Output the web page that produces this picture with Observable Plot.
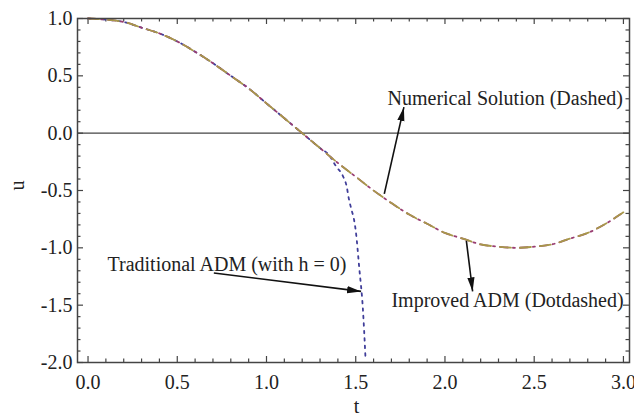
<!DOCTYPE html>
<html>
<head>
<meta charset="utf-8">
<script src="https://cdn.jsdelivr.net/npm/d3@7"></script>
<script src="https://cdn.jsdelivr.net/npm/@observablehq/plot@0.6"></script>
<style>
  html, body { margin: 0; padding: 0; background: #fff; }
  #chart svg { display: block; }
  #chart svg, #chart svg text, #chart svg g { font-family: "Liberation Serif", "Times New Roman", serif !important; }
</style>
</head>
<body>
<div id="chart"></div>
<script>
// ---- data ----
const tValues = [0.0,0.1,0.2,0.3,0.4,0.5,0.6,0.7,0.8,0.9,1.0,1.1,1.2,1.3,1.4,1.5,1.6,1.7,1.8,1.9,2.0,2.1,2.2,2.3,2.4,2.5,2.6,2.7,2.8,2.9,3.0];
const numericalU = [1.0,0.99,0.97,0.92,0.87,0.80,0.71,0.61,0.50,0.39,0.26,0.13,0.0,-0.13,-0.26,-0.38,-0.50,-0.61,-0.71,-0.79,-0.87,-0.92,-0.97,-0.99,-1.0,-0.99,-0.97,-0.92,-0.87,-0.79,-0.69];
const improvedU = [1.0,0.99,0.97,0.92,0.87,0.80,0.71,0.61,0.50,0.39,0.26,0.13,0.0,-0.13,-0.26,-0.38,-0.50,-0.61,-0.71,-0.79,-0.87,-0.92,-0.97,-0.99,-1.0,-0.99,-0.97,-0.92,-0.87,-0.79,-0.69];
const tradT = [0.0,0.1,0.2,0.3,0.4,0.5,0.6,0.7,0.8,0.9,1.0,1.1,1.2,1.3,1.35,1.39,1.43,1.45,1.46,1.475,1.49,1.50,1.52,1.54,1.555];
const tradU = [1.0,0.99,0.97,0.92,0.87,0.80,0.71,0.61,0.50,0.39,0.26,0.13,0.0,-0.13,-0.19,-0.29,-0.38,-0.47,-0.56,-0.66,-0.75,-0.85,-1.18,-1.53,-1.97];

const xTickValues = [0.0,0.5,1.0,1.5,2.0,2.5,3.0];
const yTickValues = [-2.0,-1.5,-1.0,-0.5,0.0,0.5,1.0];
const xMinorTicks = [0.1,0.2,0.3,0.4,0.6,0.7,0.8,0.9,1.1,1.2,1.3,1.4,1.6,1.7,1.8,1.9,2.1,2.2,2.3,2.4,2.6,2.7,2.8,2.9];
const yMinorTicks = [-1.9,-1.8,-1.7,-1.6,-1.4,-1.3,-1.2,-1.1,-0.9,-0.8,-0.7,-0.6,-0.4,-0.3,-0.2,-0.1,0.1,0.2,0.3,0.4,0.6,0.7,0.8,0.9];

const labelTexts = ["Numerical Solution (Dashed)", "Improved ADM (Dotdashed)", "Traditional ADM (with h = 0)"];
const labelT = [1.678, 1.70, 0.109];
const labelU = [0.305, -1.456, -1.15];
const arrowFromT = [1.66, 2.12, 0.705];
const arrowFromU = [-0.53, -0.94, -1.22];
const arrowToT = [1.77, 2.155, 1.53];
const arrowToU = [0.227, -1.38, -1.38];

// ---- tables ----
const numerical = tValues.map((t, i) => ({t, u: numericalU[i]}));
const improved = tValues.map((t, i) => ({t, u: improvedU[i]}));
const traditional = tradT.map((t, i) => ({t, u: tradU[i]}));
const labels = labelTexts.map((text, i) => ({text, t: labelT[i], u: labelU[i]}));
const arrows = arrowFromT.map((t1, i) => ({t1, u1: arrowFromU[i], t2: arrowToT[i], u2: arrowToU[i]}));

const W = 634, H = 418;
const mL = 77, mR = 5, mT = 18, mB = 56;
const innerW = W - mL - mR, innerH = H - mT - mB;
const axisColor = "#444";
const major = 6, minor = 3.5;
const fmt = d => d.toFixed(1);
const serif = "'Liberation Serif', 'Times New Roman', serif";

function filledArrow(color) {
  const m = d3.create("svg:marker")
    .attr("viewBox", "-14 -4 15 8")
    .attr("refX", 0).attr("refY", 0)
    .attr("markerWidth", 15).attr("markerHeight", 8)
    .attr("markerUnits", "userSpaceOnUse")
    .attr("orient", "auto")
    .attr("fill", "#111").attr("stroke", "none");
  m.append("path").attr("d", "M-14,-3.6L0,0L-14,3.6Z");
  return m.node();
}

function build(useMarker) {
  const arrowMarks = useMarker
    ? [Plot.link(arrows, {x1: "t1", y1: "u1", x2: "t2", y2: "u2", stroke: "#111", strokeWidth: 1.6, markerEnd: filledArrow})]
    : [Plot.arrow(arrows, {x1: "t1", y1: "u1", x2: "t2", y2: "u2", stroke: "#111", strokeWidth: 1.6, headLength: 14, headAngle: 30})];
  return Plot.plot({
    width: W, height: H,
    marginLeft: mL, marginRight: mR, marginTop: mT, marginBottom: mB,
    style: {fontFamily: serif, fontSize: "20px", color: "#222", background: "#fff"},
    x: {domain: [-0.059, 3.034]},
    y: {domain: [-2, 1]},
    marks: [
      Plot.ruleY([0], {stroke: axisColor, strokeWidth: 1.3}),
      // minor & major ticks on all four sides, pointing inward
      Plot.tickX(xMinorTicks, {x: d => d, stroke: axisColor, strokeWidth: 1.2, insetTop: innerH - minor}),
      Plot.tickX(xTickValues, {x: d => d, stroke: axisColor, strokeWidth: 1.2, insetTop: innerH - major}),
      Plot.tickX(xMinorTicks, {x: d => d, stroke: axisColor, strokeWidth: 1.2, insetBottom: innerH - minor}),
      Plot.tickX(xTickValues, {x: d => d, stroke: axisColor, strokeWidth: 1.2, insetBottom: innerH - major}),
      Plot.tickY(yMinorTicks, {y: d => d, stroke: axisColor, strokeWidth: 1.2, insetRight: innerW - minor}),
      Plot.tickY(yTickValues, {y: d => d, stroke: axisColor, strokeWidth: 1.2, insetRight: innerW - major}),
      Plot.tickY(yMinorTicks, {y: d => d, stroke: axisColor, strokeWidth: 1.2, insetLeft: innerW - minor}),
      Plot.tickY(yTickValues, {y: d => d, stroke: axisColor, strokeWidth: 1.2, insetLeft: innerW - major}),
      Plot.axisX(xTickValues, {tickSize: 0, tickPadding: 12, tickFormat: fmt, label: null, fill: "#222", fontFamily: serif}),
      Plot.axisY(yTickValues, {tickSize: 0, tickPadding: 5, tickFormat: fmt, label: null, fill: "#222", fontFamily: serif}),
      // curves
      Plot.line(traditional, {x: "t", y: "u", stroke: "#3f3d99", strokeWidth: 1.8, strokeDasharray: "2.5,5", curve: "monotone-x"}),
      Plot.line(improved, {x: "t", y: "u", stroke: "#993d71", strokeWidth: 1.8, strokeDasharray: "8,5,2,5", curve: "monotone-x"}),
      Plot.line(numerical, {x: "t", y: "u", stroke: "#a8984a", strokeWidth: 1.8, strokeDasharray: "11,9", curve: "monotone-x"}),
      // annotations
      ...arrowMarks,
      Plot.text(labels, {x: "t", y: "u", text: "text", textAnchor: "start", fill: "#222", fontFamily: serif}),
      Plot.text(["t"], {text: d => d, frameAnchor: "bottom", dx: 3, dy: 50, fill: "#222", fontFamily: serif}),
      Plot.text(["u"], {text: d => d, frameAnchor: "left", dx: -60, rotate: -90, fill: "#222", fontFamily: serif}),
      Plot.frame({stroke: axisColor, strokeWidth: 1.5})
    ]
  });
}

let chart;
try { chart = build(true); } catch (e) { chart = build(false); }
document.getElementById("chart").appendChild(chart);
</script>
</body>
</html>
